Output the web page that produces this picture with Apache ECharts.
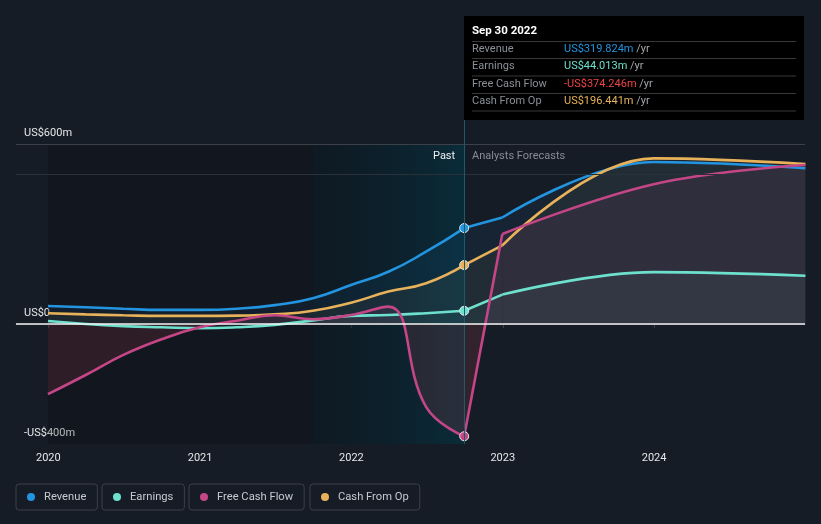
<!DOCTYPE html>
<html><head><meta charset="utf-8">
<script src="https://cdn.jsdelivr.net/npm/echarts@6/dist/echarts.min.js"></script>
<style>html,body{margin:0;padding:0;background:#161c26;}#c{width:821px;height:524px;}</style>
</head><body><div id="c"></div>
<script>
// ---- data (US$ millions) ----
const dates = ['2019-12-31','2020-03-31','2020-06-30','2020-09-30','2020-12-31','2021-03-31','2021-06-30','2021-09-30','2021-12-31','2022-03-31','2022-06-30','2022-09-30','2022-12-31','2023-12-31','2024-12-31'];
const revenue  = [60, 56, 51, 47, 47, 51, 63, 86, 130, 174, 241, 319.824, 355, 540, 519];
const earnings = [10, 0, -7, -11, -14, -11, -3, 12, 27, 30, 36, 44.013, 98, 173, 161];
const fcf      = [-234, -170, -103, -51, -11, 11, 29, 16, 30, 58, -276, -374.246, 300, 466, 530];
const cfo      = [36, 32, 29, 27, 27, 28, 32, 44, 71, 108, 136, 196.441, 262, 552, 533];
const seriesNames = ['Revenue', 'Earnings', 'Free Cash Flow', 'Cash From Op'];
const yTickLabels = {600: 'US$600m', 0: 'US$0', '-400': '-US$400m'};
const xTickLabels = ['2020', '2021', '2022', '2023', '2024'];
const highlightDate = '2022-09-30';
const highlightTitle = 'Sep 30 2022';
const bandStart = '2021-09-30';
const pastLabel = 'Past';
const forecastLabel = 'Analysts Forecasts';

const colors = {Revenue:'#2394df', Earnings:'#6de1cd', 'Free Cash Flow':'#c44687', 'Cash From Op':'#e8b25a'};
const valueColors = {Revenue:'#2394df', Earnings:'#6de1cd', 'Free Cash Flow':'#ef4444', 'Cash From Op':'#e8b25a'};
const FONT = 'Roboto, "Noto Sans", sans-serif';

const chart = echarts.init(document.getElementById('c'), null, {renderer:'canvas'});
const hi = dates.indexOf(highlightDate);

// part: 'past' = start..hi, 'fc1' = hi..hi+1, 'fc2' = hi+1..end
function mk(name, values, areaColor, part, smooth) {
  const color = colors[name];
  const idx = dates.map((d, i) => i).filter(i =>
    part === 'past' ? i <= hi : part === 'fc1' ? (i === hi || i === hi + 1) : i >= hi + 1);
  return {
    name, type:'line', smooth,
    showSymbol:true, showAllSymbol:true, symbol:'none',
    lineStyle:{width:2.6, color}, itemStyle:{color},
    areaStyle:{color:areaColor, origin:'auto'},
    emphasis:{disabled:true}, z: part === 'past' ? 4 : 3, silent:true,
    data: idx.map(i => (i === hi && part === 'past')
      ? {value:[dates[i], values[i]], symbol:'circle', symbolSize:9, itemStyle:{color, borderColor:'#e6e6e6', borderWidth:1}}
      : [dates[i], values[i]])
  };
}

const fcfArea = () => new echarts.graphic.LinearGradient(0, 120, 0, 444, [
  {offset:0, color:'rgba(196,70,135,0.13)'},
  {offset:0.629, color:'rgba(196,70,135,0.13)'},
  {offset:0.63, color:'rgba(200,70,80,0.22)'},
  {offset:1, color:'rgba(200,70,80,0.22)'}
], true);

const bandGrad = new echarts.graphic.LinearGradient(0, 0, 1, 0, [
  {offset:0, color:'rgba(0,20,28,0.35)'},
  {offset:1, color:'rgba(0,56,72,0.55)'}
]);

function fmt(v) {
  const s = 'US$' + Math.abs(v).toFixed(3) + 'm';
  return v < 0 ? '-' + s : s;
}
const valsByName = {Revenue:revenue, Earnings:earnings, 'Free Cash Flow':fcf, 'Cash From Op':cfo};
const areaColors = {
  Revenue:() => 'rgba(35,148,223,0.10)',
  'Cash From Op':() => 'rgba(232,178,90,0.08)',
  Earnings:() => 'rgba(109,225,205,0.08)',
  'Free Cash Flow':fcfArea
};

const graphic = [
  {type:'rect', shape:{x:464, y:16, width:340, height:104}, style:{fill:'#000'}, z:100},
  {type:'text', x:472, y:31, z:101, style:{text:highlightTitle, fill:'#fff', fontSize:11.5, fontWeight:'bold', fontFamily:FONT, verticalAlign:'middle'}},
  {type:'text', x:433, y:156, z:101, style:{text:pastLabel, fill:'#eef0f2', fontSize:11, fontFamily:FONT, verticalAlign:'middle'}},
  {type:'text', x:472, y:156, z:101, style:{text:forecastLabel, fill:'#878c94', fontSize:11, fontFamily:FONT, verticalAlign:'middle'}}
];
const sepY = [41.5, 58.5, 76, 93.5, 111];
sepY.forEach(y => graphic.push({type:'line', shape:{x1:472, y1:y, x2:796, y2:y}, style:{stroke:'#383838', lineWidth:1}, z:101}));
const rowY = [49.5, 66.5, 84, 101.5];
seriesNames.forEach((n, i) => {
  graphic.push({type:'text', x:472, y:rowY[i], z:101, style:{text:n, fill:'#8a9098', fontSize:11, fontFamily:FONT, verticalAlign:'middle'}});
  graphic.push({type:'text', x:564, y:rowY[i], z:101, style:{
    text:'{v|' + fmt(valsByName[n][hi]) + '} {u|/yr}', verticalAlign:'middle', fontSize:11, fontFamily:FONT,
    rich:{v:{fill:valueColors[n], fontSize:11, fontFamily:FONT}, u:{fill:'#a4a8ae', fontSize:11, fontFamily:FONT}}
  }});
});

const legendLefts = [16, 102, 189, 310];
const legends = seriesNames.map((n, i) => ({
  data:[n], left:legendLefts[i], top:484, orient:'horizontal',
  icon:'circle', itemWidth:8, itemHeight:8,
  borderColor:'#3a3f49', borderWidth:1, borderRadius:3, padding:[6, 11, 6, 11],
  textStyle:{color:'#c6cad0', fontSize:11.2, fontFamily:FONT, padding:[0,0,0,4], lineHeight:14},
  selectedMode:false
}));

const drawOrder = ['Revenue', 'Cash From Op', 'Earnings', 'Free Cash Flow'];
const pastSmooth = {Revenue:0.5, 'Cash From Op':0.5, Earnings:0.5, 'Free Cash Flow':0.45};
const lineSeries = [];
drawOrder.forEach(n => lineSeries.push(mk(n, valsByName[n], areaColors[n](), 'past', pastSmooth[n])));
drawOrder.forEach(n => lineSeries.push(mk(n, valsByName[n], areaColors[n](), 'fc1', 0)));
drawOrder.forEach(n => lineSeries.push(mk(n, valsByName[n], areaColors[n](), 'fc2', 0.4)));

chart.setOption({
  backgroundColor:'#161c26',
  animation:false,
  grid:{left:16, right:16, top:120, bottom:80, containLabel:false, outerBoundsMode:'none'},
  legend: legends,
  xAxis:{
    type:'time', min:'2019-10-15', max:'2024-12-30',
    splitNumber:5, minInterval:365*24*3600*1000,
    axisLine:{show:true, lineStyle:{color:'#3b4049'}},
    axisTick:{show:true, length:4, lineStyle:{color:'#3b4049'}},
    axisLabel:{color:'#e4e6e9', fontSize:11, fontFamily:FONT, margin:9,
      formatter: v => { const y = String(new Date(v).getFullYear()); return xTickLabels.includes(y) ? y : ''; }},
    splitLine:{show:false}
  },
  yAxis:{
    type:'value', min:-400, max:680, interval:200,
    axisLine:{show:false}, axisTick:{show:false}, splitLine:{show:false},
    axisLabel:{inside:true, margin:8, color:'#e4e6e9', fontSize:11, fontFamily:FONT,
      verticalAlign:'bottom', padding:[0,0,5,0],
      formatter: v => yTickLabels[v] || ''}
  },
  graphic,
  series:[
    {type:'line', data:[], silent:true, z:0,
      markArea:{silent:true, data:[
        [{xAxis:'2019-12-31', yAxis:600, itemStyle:{color:'rgba(6,6,9,0.22)'}}, {xAxis:bandStart, yAxis:-400}],
        [{xAxis:bandStart, yAxis:600, itemStyle:{color:bandGrad}}, {xAxis:highlightDate, yAxis:-400}]
      ]},
      markLine:{silent:true, symbol:'none', label:{show:false}, data:[
        {yAxis:600, lineStyle:{color:'#3b4049', width:1, type:'solid'}},
        {yAxis:500, lineStyle:{color:'#2a313b', width:1, type:'solid'}},
        {xAxis:highlightDate, lineStyle:{color:'#1d5a6c', width:1, type:'solid'}}
      ]}
    },
    ...lineSeries,
    {type:'line', data:[], silent:true, z:5,
      markLine:{silent:true, symbol:'none', label:{show:false}, data:[
        {yAxis:0, lineStyle:{color:'#f2f2f2', width:1.5, type:'solid'}}
      ]}
    }
  ]
});
</script>
</body></html>
